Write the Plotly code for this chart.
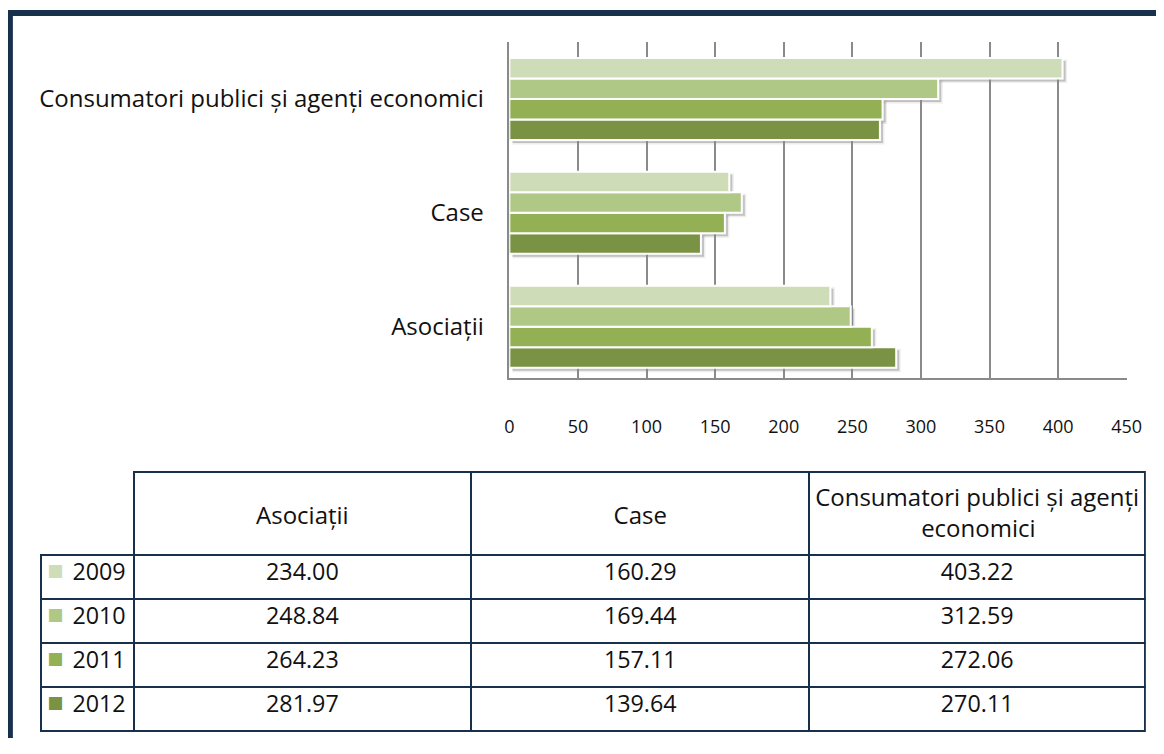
import plotly.graph_objects as go

categories = ["Asociații", "Case", "Consumatori publici și agenți economici"]
years = ["2009", "2010", "2011", "2012"]
values = {
    "2009": [234.00, 160.29, 403.22],
    "2010": [248.84, 169.44, 312.59],
    "2011": [264.23, 157.11, 272.06],
    "2012": [281.97, 139.64, 270.11],
}
colors = {"2009": "#cfdcb8", "2010": "#b0c886", "2011": "#94b054", "2012": "#7a9244"}
x_ticks = [0, 50, 100, 150, 200, 250, 300, 350, 400, 450]
PAD = "<span style='font-size:12px'>&nbsp;</span><br>"
header_labels = [PAD + "Asociații", PAD + "Case",
                 "Consumatori publici și agenți<br>" + "\u00a0" * 17 + "economici"]

# page placement (body margin) and observed horizontal scaling of the snapshot
OFF_Y = 8
SX, BX = 0.9838, 4.25
W, H = 1160, 730
NAVY = "#17304b"
FONT = "Open Sans"
TXT = "#111111"
CLEAR = "rgba(0,0,0,0)"
SHADOW = "rgba(110,110,110,0.35)"

def px(x):
    return ((x - BX) / SX - 8) / W

def py(y):
    return 1 - (y - OFF_Y) / H

fig = go.Figure()
# soft drop shadows (same data, slightly offset subplot underneath)
for yr in reversed(years):
    fig.add_trace(go.Bar(
        y=categories, x=values[yr], orientation="h", xaxis="x", yaxis="y",
        marker=dict(color=SHADOW, line=dict(color="rgba(110,110,110,0.12)", width=3)),
        showlegend=False, hoverinfo="skip",
    ))
for yr in reversed(years):
    fig.add_trace(go.Bar(
        y=categories, x=values[yr], name=yr, orientation="h", xaxis="x2", yaxis="y2",
        marker=dict(color=colors[yr], line=dict(color="white", width=2)),
        showlegend=False,
    ))

# data table
table_cols = [years] + [[values[y][i] for y in years] for i in range(3)]
fig.add_trace(go.Table(
    domain=dict(x=[px(40), px(1146)], y=[py(738), py(472)]),
    columnwidth=[93, 338, 339, 336],
    header=dict(values=[""] + header_labels, height=83, align="center",
                fill=dict(color=[CLEAR, "white", "white", "white"]),
                line=dict(color=[CLEAR, NAVY, NAVY, NAVY], width=2),
                font=dict(family=FONT, size=24, color=TXT)),
    cells=dict(values=table_cols, height=44, align=["right", "center", "center", "center"],
               format=["", ".2f", ".2f", ".2f"],
               fill=dict(color="white"),
               line=dict(color=NAVY, width=2),
               font=dict(family=FONT, size=23.3, color=TXT)),
))
# legend keys (coloured squares) overlaid on the year column
fig.add_trace(go.Table(
    domain=dict(x=[px(42), px(68)], y=[py(738), py(472)]),
    header=dict(values=[""], height=83, fill=dict(color=CLEAR), line=dict(color=CLEAR, width=0)),
    cells=dict(values=[["■"] * len(years)], height=44, align="center",
               fill=dict(color=CLEAR), line=dict(color=CLEAR, width=0),
               font=dict(family="DejaVu Sans", size=17, color=[[colors[y] for y in years]])),
))

SH = 3  # shadow offset in px
fig.update_layout(
    width=W, height=H, autosize=False,
    margin=dict(l=0, r=0, t=0, b=0),
    paper_bgcolor="white", plot_bgcolor=CLEAR,
    barmode="group", bargap=0.28, bargroupgap=0,
    font=dict(family=FONT, color=TXT),
    xaxis=dict(domain=[px(509 + SH), px(1127 + SH)], range=[0, 450], visible=False,
               showgrid=False, zeroline=False),
    yaxis=dict(domain=[py(378 + SH), py(42 + SH)], range=[-0.45, 2.5], visible=False,
               showgrid=False, zeroline=False),
    xaxis2=dict(domain=[px(509), px(1127)], range=[0, 450], tickvals=x_ticks, anchor="y2",
                showgrid=True, gridcolor="#8a8a8a", gridwidth=1.5,
                showline=True, linecolor="#8a8a8a", linewidth=1.5,
                zeroline=False, ticks="", ticklabelstandoff=32,
                tickfont=dict(size=18, family=FONT, color=TXT)),
    yaxis2=dict(domain=[py(378), py(42)], range=[-0.45, 2.5], anchor="x2",
                showgrid=False, showline=True, linecolor="#8a8a8a", linewidth=1.5,
                ticks="", ticklabelstandoff=19,
                tickfont=dict(size=24, family=FONT, color=TXT)),
    shapes=[dict(type="rect", xref="paper", yref="paper",
                 x0=px(9), x1=1.1, y0=-0.1, y1=py(13),
                 line=dict(color=NAVY, width=6), fillcolor=CLEAR)],
)

fig.write_html("out.html")
